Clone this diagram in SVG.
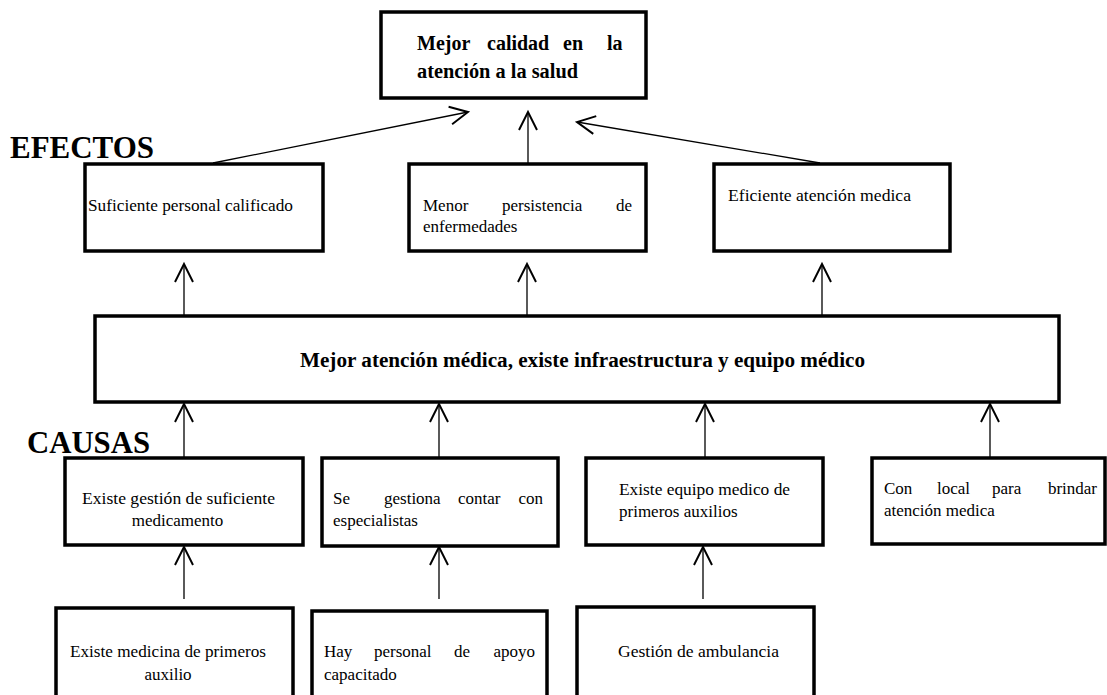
<svg xmlns="http://www.w3.org/2000/svg" width="1107" height="695" viewBox="0 0 1107 695">
<style>
.box{fill:#fff;stroke:#000;stroke-width:3.5}
.t{font-family:"Liberation Serif","Times New Roman",serif;font-size:17px;fill:#000}
.b{font-family:"Liberation Serif","Times New Roman",serif;font-weight:bold;fill:#000}
.c{stroke:#000;stroke-width:1.3;fill:none;marker-end:url(#ah)}
</style>
<defs>
<marker id="ah" markerUnits="userSpaceOnUse" markerWidth="30" markerHeight="30" refX="0" refY="0" viewBox="-15 -10 20 20" orient="auto" overflow="visible">
<path d="M-12,-6 L0,0 L-12,6" fill="none" stroke="#000" stroke-width="1.3"/>
</marker>
</defs>
<rect width="1107" height="695" fill="#fff"/>
<text class="b" x="10" y="158" font-size="32" textLength="144" lengthAdjust="spacingAndGlyphs">EFECTOS</text>
<text class="b" x="27" y="453" font-size="31" textLength="123" lengthAdjust="spacingAndGlyphs">CAUSAS</text>
<g id="connectors">
<line class="c" x1="213" y1="163" x2="468" y2="112"/>
<line class="c" x1="528" y1="163" x2="528" y2="112"/>
<line class="c" x1="820" y1="163" x2="577" y2="122"/>
<line class="c" x1="184" y1="315" x2="184" y2="264"/>
<line class="c" x1="527" y1="315" x2="527" y2="264"/>
<line class="c" x1="822" y1="315" x2="822" y2="264"/>
<line class="c" x1="184" y1="457" x2="184" y2="404"/>
<line class="c" x1="439" y1="457" x2="439" y2="404"/>
<line class="c" x1="705" y1="457" x2="705" y2="404"/>
<line class="c" x1="990" y1="457" x2="990" y2="404"/>
<line class="c" x1="184" y1="599" x2="184" y2="547"/>
<line class="c" x1="439" y1="599" x2="439" y2="547"/>
<line class="c" x1="703" y1="599" x2="703" y2="547"/>
</g>
<g id="top">
<rect class="box" x="381" y="12" width="265" height="86"/>
<text class="b" font-size="20" y="50"><tspan x="417">Mejor</tspan><tspan x="487">calidad</tspan><tspan x="563">en</tspan><tspan x="607">la</tspan></text>
<text class="b" font-size="20" x="417" y="78" textLength="161" lengthAdjust="spacingAndGlyphs">atención a la salud</text>
</g>
<g id="e1">
<rect class="box" x="85" y="164" width="238" height="87"/>
<text class="t" x="88" y="211" textLength="205" lengthAdjust="spacingAndGlyphs">Suficiente personal calificado</text>
</g>
<g id="e2">
<rect class="box" x="409" y="164" width="237" height="87"/>
<text class="t" y="211"><tspan x="423">Menor</tspan><tspan x="502">persistencia</tspan></text>
<text class="t" x="632" y="211" text-anchor="end">de</text>
<text class="t" x="423" y="232">enfermedades</text>
</g>
<g id="e3">
<rect class="box" x="714" y="164" width="236" height="87"/>
<text class="t" x="728" y="201" textLength="183" lengthAdjust="spacingAndGlyphs">Eficiente  atención medica</text>
</g>
<g id="mid">
<rect class="box" x="95" y="316" width="964" height="86"/>
<text class="b" font-size="20" x="300" y="367" textLength="565" lengthAdjust="spacingAndGlyphs">Mejor atención médica,  existe  infraestructura y equipo médico</text>
</g>
<g id="c1">
<rect class="box" x="65" y="458" width="238" height="87"/>
<text class="t" x="82" y="504" textLength="193" lengthAdjust="spacingAndGlyphs">Existe  gestión de suficiente</text>
<text class="t" x="177.5" y="526" text-anchor="middle">medicamento</text>
</g>
<g id="c2">
<rect class="box" x="322" y="458" width="236" height="88"/>
<text class="t" y="504"><tspan x="333">Se</tspan><tspan x="384">gestiona</tspan><tspan x="458">contar</tspan></text>
<text class="t" x="543" y="504" text-anchor="end">con</text>
<text class="t" x="333" y="526">especialistas</text>
</g>
<g id="c3">
<rect class="box" x="586" y="458" width="237" height="87"/>
<text class="t" x="619" y="495" textLength="171" lengthAdjust="spacingAndGlyphs">Existe equipo medico de</text>
<text class="t" x="619" y="517">primeros auxilios</text>
</g>
<g id="c4">
<rect class="box" x="872" y="458" width="233" height="86"/>
<text class="t" y="494"><tspan x="884">Con</tspan><tspan x="937">local</tspan><tspan x="992">para</tspan></text>
<text class="t" x="1097" y="494" text-anchor="end">brindar</text>
<text class="t" x="884" y="516">atención medica</text>
</g>
<g id="b1">
<rect class="box" x="56" y="608" width="237" height="100"/>
<text class="t" x="70" y="657" textLength="196" lengthAdjust="spacingAndGlyphs">Existe medicina de primeros</text>
<text class="t" x="168" y="680" text-anchor="middle">auxilio</text>
</g>
<g id="b2">
<rect class="box" x="312" y="611" width="235" height="100"/>
<text class="t" y="657"><tspan x="324">Hay</tspan><tspan x="374">personal</tspan><tspan x="454">de</tspan></text>
<text class="t" x="535" y="657" text-anchor="end">apoyo</text>
<text class="t" x="324" y="680">capacitado</text>
</g>
<g id="b3">
<rect class="box" x="577" y="607" width="237" height="100"/>
<text class="t" x="698.5" y="657" text-anchor="middle" textLength="161" lengthAdjust="spacingAndGlyphs">Gestión de ambulancia</text>
</g>
</svg>
